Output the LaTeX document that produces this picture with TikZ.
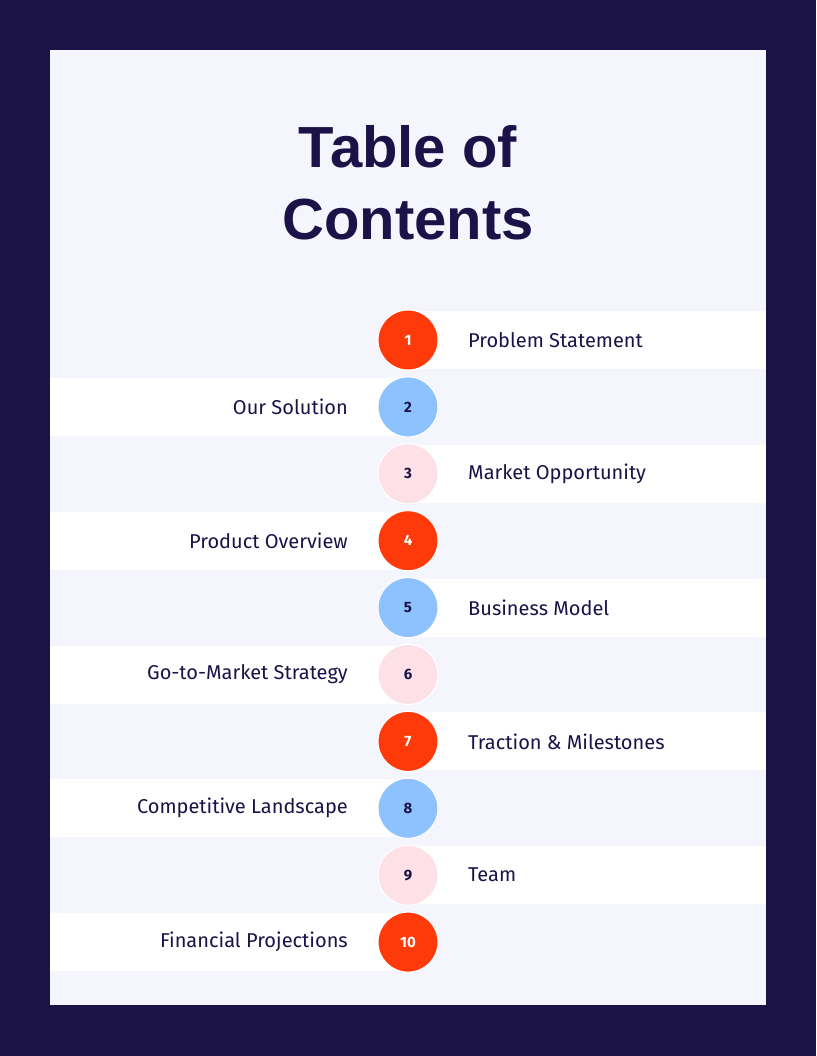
\documentclass[tikz,border=0pt]{standalone}
\usepackage{fontspec}
\setmainfont{Fira Sans}
\newfontfamily\titlefont{Liberation Sans}
\definecolor{navy}{HTML}{1B1248}
\definecolor{panel}{HTML}{F5F5FD}
\definecolor{cred}{HTML}{FF3A0A}
\definecolor{cblue}{HTML}{8EC2FF}
\definecolor{cpink}{HTML}{FDE1E6}
\tikzset{
 num/.style={circle,minimum size=60pt,inner sep=0pt,draw=white,line width=1pt,font=\fontsize{15}{15}\selectfont\bfseries},
 lab/.style={font=\fontsize{20}{24}\selectfont,text=navy,inner sep=0pt},
}
\begin{document}
\begin{tikzpicture}[x=1pt,y=-1pt]
\fill[navy] (0,0) rectangle (816,1056);
\fill[panel] (50,50) rectangle (766,1005);
\node[font=\titlefont\bfseries\fontsize{58}{72}\selectfont,text=navy,align=center] (title) at (408,183) {Table of\\Contents};
\foreach \i/\t/\c/\side in {1/Problem Statement/cred/R,2/Our Solution/cblue/L,3/Market Opportunity/cpink/R,4/Product Overview/cred/L,5/Business Model/cblue/R,6/Go-to-Market Strategy/cpink/L,7/Traction \& Milestones/cred/R,8/Competitive Landscape/cblue/L,9/Team/cpink/R,10/Financial Projections/cred/L}{
  \pgfmathsetmacro{\yy}{340+66.9*(\i-1)}
  \if\side R
    \fill[white] (408,\yy-29) rectangle (766,\yy+29);
    \node[lab,anchor=west] (t\i) at (468,\yy) {\t};
  \else
    \fill[white] (50,\yy-29) rectangle (408,\yy+29);
    \node[lab,anchor=east] (t\i) at (348,\yy) {\t};
  \fi
  \ifnum\i=1 \def\tc{white}\else\ifnum\i=4 \def\tc{white}\else\ifnum\i=7 \def\tc{white}\else\ifnum\i=10 \def\tc{white}\else\def\tc{navy}\fi\fi\fi\fi
  \node[num,fill=\c,text=\tc] (n\i) at (408,\yy) {\i};
}
\end{tikzpicture}
\end{document}
